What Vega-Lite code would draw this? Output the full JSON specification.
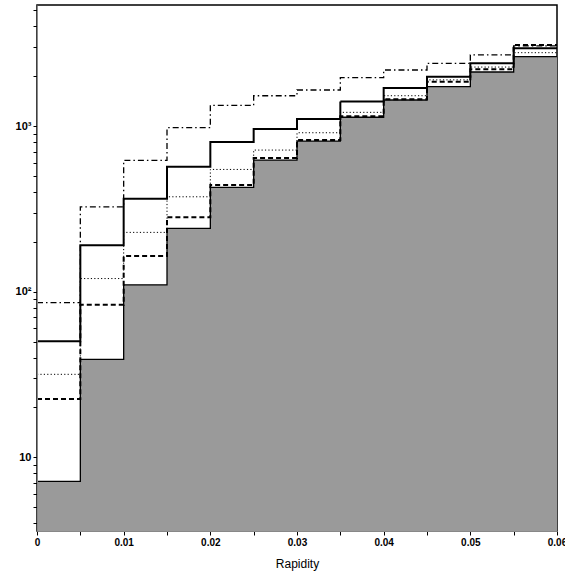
{
  "$schema": "https://vega.github.io/schema/vega-lite/v6.json",
  "width": 520,
  "height": 526,
  "autosize": {"type": "none"},
  "padding": {"left": 37, "top": 5, "right": 8, "bottom": 45},
  "background": "white",
  "config": {
    "view": {"stroke": "black", "strokeWidth": 1.5},
    "axis": {
      "grid": false,
      "labelColor": "black",
      "labelFont": "Liberation Sans",
      "labelFontWeight": "bold",
      "labelFontSize": 10,
      "labelOverlap": false,
      "labelFlush": false,
      "titleFont": "Liberation Sans",
      "titleFontWeight": "normal",
      "titleFontSize": 12,
      "titleColor": "black"
    }
  },
  "data": {
    "values": [
      {"x": 0.000, "fill": 7.16, "dashed": 22.5, "dotted": 31.7, "solid": 50.2, "dashdot": 86},
      {"x": 0.005, "fill": 39.0, "dashed": 83.4, "dotted": 120, "solid": 191, "dashdot": 325},
      {"x": 0.010, "fill": 110, "dashed": 164, "dotted": 228, "solid": 364, "dashdot": 620},
      {"x": 0.015, "fill": 241, "dashed": 281, "dotted": 374, "solid": 568, "dashdot": 977},
      {"x": 0.020, "fill": 426, "dashed": 440, "dotted": 547, "solid": 802, "dashdot": 1334},
      {"x": 0.025, "fill": 623, "dashed": 641, "dotted": 716, "solid": 959, "dashdot": 1524},
      {"x": 0.030, "fill": 811, "dashed": 823, "dotted": 911, "solid": 1104, "dashdot": 1650},
      {"x": 0.035, "fill": 1130, "dashed": 1145, "dotted": 1210, "solid": 1405, "dashdot": 1958},
      {"x": 0.040, "fill": 1436, "dashed": 1450, "dotted": 1524, "solid": 1695, "dashdot": 2180},
      {"x": 0.045, "fill": 1728, "dashed": 1853, "dotted": 1900, "solid": 1986, "dashdot": 2393},
      {"x": 0.050, "fill": 2120, "dashed": 2201, "dotted": 2270, "solid": 2393, "dashdot": 2686},
      {"x": 0.055, "fill": 2622, "dashed": 3087, "dotted": 2773, "solid": 2948, "dashdot": 3050},
      {"x": 0.060, "fill": 2622, "dashed": 3087, "dotted": 2773, "solid": 2948, "dashdot": 3050}
    ]
  },
  "layer": [
    {
      "mark": {"type": "area", "interpolate": "step-after", "color": "#9a9a9a"},
      "encoding": {
        "x": {"field": "x", "type": "quantitative", "scale": {"domain": [0, 0.06], "nice": false, "zero": false},
          "axis": {"orient": "bottom", "title": "Rapidity", "titlePadding": 11, "tickCount": 12, "tickSize": 4, "tickColor": "black", "tickWidth": 1, "labelPadding": 2, "zindex": 1,
            "labelExpr": "abs(datum.value*100 - round(datum.value*100)) < 1e-6 ? (datum.value == 0 ? '0' : format(datum.value, '.2f')) : ''"}},
        "y": {"field": "fill", "type": "quantitative", "scale": {"type": "log", "domain": [3.59, 5380], "nice": false},
          "axis": {"orient": "left", "title": null, "tickSize": 4, "tickColor": "black", "tickWidth": 1, "labelPadding": 2, "zindex": 1,
            "values": [4,5,6,7,8,9,10,20,30,40,50,60,70,80,90,100,200,300,400,500,600,700,800,900,1000,2000,3000,4000,5000],
            "labelExpr": "datum.value == 10 ? '10' : datum.value == 100 ? '10²' : datum.value == 1000 ? '10³' : ''",
            "labelFontSize": 11}},
        "y2": {"datum": 3.59}
      }
    },
    {
      "transform": [{"fold": ["fill", "dashed", "dotted", "solid", "dashdot"], "as": ["s", "v"]}],
      "mark": {"type": "line", "interpolate": "step-after", "color": "black"},
      "encoding": {
        "x": {"field": "x", "type": "quantitative"},
        "y": {"field": "v", "type": "quantitative"},
        "detail": {"field": "s", "type": "nominal"},
        "strokeDash": {"field": "s", "type": "nominal", "legend": null,
          "scale": {"domain": ["fill", "dashed", "dotted", "solid", "dashdot"], "range": [[1, 0], [5, 3], [1.2, 2.2], [1, 0], [6, 3, 1.5, 3]]}},
        "strokeWidth": {"field": "s", "type": "ordinal", "legend": null,
          "scale": {"type": "ordinal", "domain": ["fill", "dashed", "dotted", "solid", "dashdot"], "range": [1.3, 2, 1, 2, 1.3]}}
      }
    }
  ]
}
